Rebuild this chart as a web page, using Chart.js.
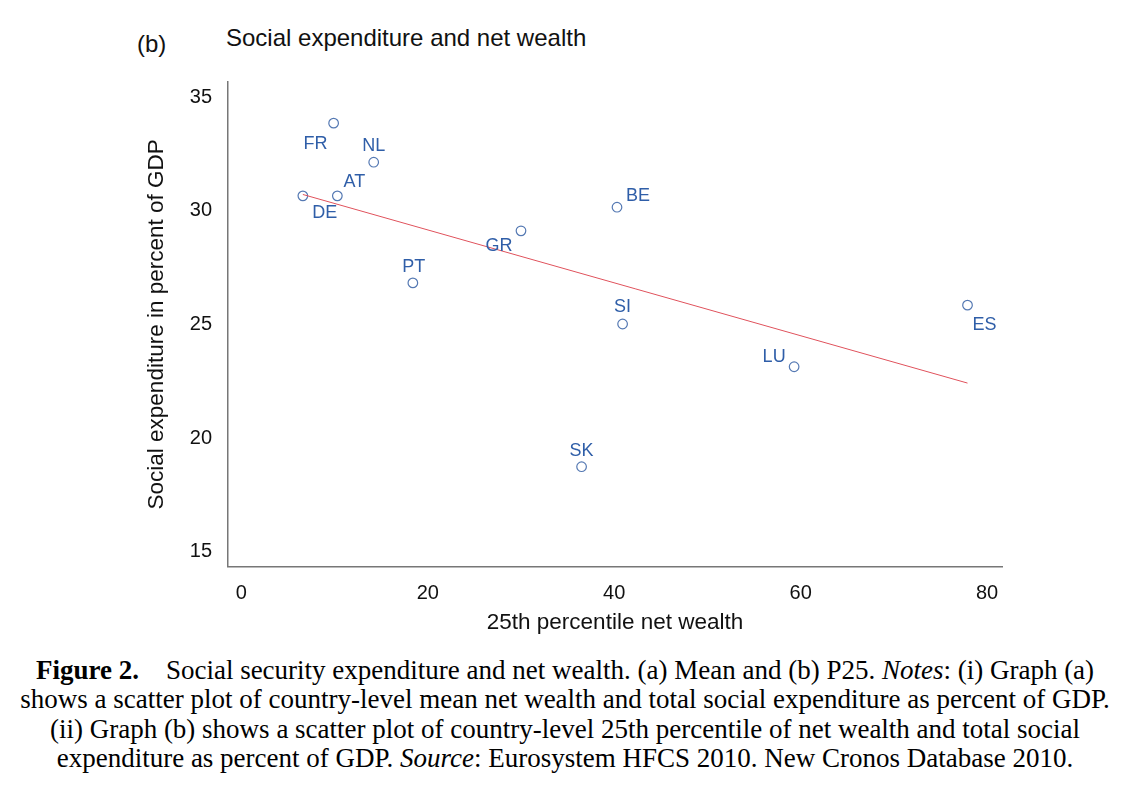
<!DOCTYPE html>
<html lang="en">
<head>
<meta charset="utf-8">
<script src="https://cdn.jsdelivr.net/npm/chart.js@4.4.1/dist/chart.umd.min.js"></script>
<style>
  body { margin: 0; background: #fff; width: 1130px; height: 804px; position: relative; overflow: hidden; }
  #wrap { position: absolute; left: 0; top: 0; width: 1130px; height: 640px; }
  .hdr { position: absolute; font-family: "Liberation Sans", Arial, sans-serif; color: #111; white-space: nowrap; }
  #caption { position: absolute; left: 0; top: 656px; width: 1130px; text-align: center; white-space: nowrap;
             font-family: "Liberation Serif", "Times New Roman", serif; font-size: 27px; line-height: 29.3px; color: #000; }
</style>
</head>
<body>
<div class="hdr" style="left:137px; top:30px; font-size:24px;">(b)</div>
<div class="hdr" style="left:226px; top:24px; font-size:24px;">Social expenditure and net wealth</div>
<div id="wrap"><canvas id="myChart"></canvas></div>
<div id="caption">
  <b>Figure 2.</b>&nbsp;&nbsp;&nbsp; Social security expenditure and net wealth. (a) Mean and (b) P25. <i>Notes</i>: (i) Graph (a)<br>
  shows a scatter plot of country-level mean net wealth and total social expenditure as percent of GDP.<br>
  (ii) Graph (b) shows a scatter plot of country-level 25th percentile of net wealth and total social<br>
  expenditure as percent of GDP. <i>Source</i>: Eurosystem HFCS 2010. New Cronos Database 2010.
</div>
<script>
// country data
var countries = ['FR', 'NL', 'AT', 'DE', 'PT', 'GR', 'BE', 'SI', 'SK', 'LU', 'ES'];
var wealthP25 = [9.9, 14.2, 10.3, 6.6, 18.4, 30.0, 40.3, 40.9, 36.5, 59.3, 77.9];
var socialExp = [33.86, 32.14, 30.66, 30.66, 26.83, 29.12, 30.16, 25.02, 18.74, 23.14, 25.85];
// fitted line end points
var fitX = [6.6, 77.9];
var fitY = [30.72, 22.42];
var xTicks = [0, 20, 40, 60, 80];
var yTicks = [15, 20, 25, 30, 35];

// label placement around each marker (px)
var labelOffset = {
    FR: [-18, 21], NL: [0, -16], AT: [17, -14], DE: [22, 17], PT: [1, -16], GR: [-22, 15],
    BE: [21, -11], SI: [0, -17], SK: [0, -16], LU: [-20, -10], ES: [17, 20]
};

var countryLabels = {
    id: 'countryLabels',
    afterDatasetsDraw: function(chart) {
        var ctx = chart.ctx;
        var meta = chart.getDatasetMeta(1);
        ctx.save();
        ctx.font = '18px "Liberation Sans", Arial, sans-serif';
        ctx.fillStyle = '#2f5ea8';
        ctx.textAlign = 'center';
        ctx.textBaseline = 'middle';
        meta.data.forEach(function(pt, i) {
            var off = labelOffset[countries[i]];
            ctx.fillText(countries[i], pt.x + off[0], pt.y + off[1]);
        });
        ctx.restore();
    }
};

var points = wealthP25.map(function(v, i) { return { x: v, y: socialExp[i] }; });
var fit = fitX.map(function(v, i) { return { x: v, y: fitY[i] }; });

Chart.defaults.font.family = '"Liberation Sans", Arial, sans-serif';
Chart.defaults.color = '#111';

var ctx = document.getElementById('myChart').getContext('2d');
var myChart = new Chart(ctx, {
    type: 'scatter',
    data: {
        datasets: [{
            type: 'line',
            data: fit,
            borderColor: '#e0525c',
            borderWidth: 1,
            pointRadius: 0,
            fill: false
        }, {
            data: points,
            pointStyle: 'circle',
            pointRadius: 4.8,
            pointBackgroundColor: 'rgba(255,255,255,0)',
            pointBorderColor: '#5579b3',
            pointBorderWidth: 1.2
        }]
    },
    options: {
        responsive: true,
        maintainAspectRatio: false,
        animation: false,
        layout: { padding: { top: 82, right: 128, left: 0, bottom: 0 } },
        plugins: { legend: { display: false }, tooltip: { enabled: false } },
        scales: {
            x: {
                type: 'linear',
                min: -1.43,
                max: 81.6,
                afterBuildTicks: function(s) { s.ticks = xTicks.map(function(v) { return { value: v }; }); },
                afterFit: function(s) { s.height = 73.3; },
                grid: { display: false, drawTicks: false },
                border: { display: true, color: '#777', width: 1.5 },
                ticks: { font: { size: 20 }, padding: 14.5, color: '#111' },
                title: { display: true, text: '25th percentile net wealth', font: { size: 22.5 }, color: '#111',
                         padding: { top: 0, bottom: 3.5 } }
            },
            y: {
                type: 'linear',
                min: 14.34,
                max: 35.67,
                afterBuildTicks: function(s) { s.ticks = yTicks.map(function(v) { return { value: v }; }); },
                afterFit: function(s) { s.width = 228; },
                grid: { display: false, drawTicks: false },
                border: { display: true, color: '#777', width: 1.5 },
                ticks: { font: { size: 20 }, padding: 16, color: '#111' },
                title: { display: true, text: 'Social expenditure in percent of GDP', font: { size: 22.5 }, color: '#111',
                         padding: { top: 143.5, bottom: 0 } }
            }
        }
    },
    plugins: [countryLabels]
});
</script>
</body>
</html>
